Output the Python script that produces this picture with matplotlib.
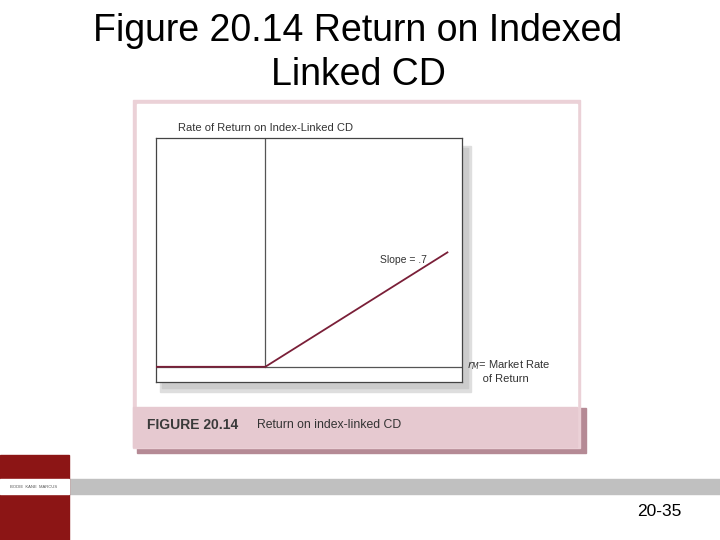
import matplotlib.pyplot as plt
from matplotlib.patches import Rectangle

plt.rcParams['font.family'] = ['Liberation Sans', 'DejaVu Sans']

# market return (x) vs return on index-linked CD (y)
market = [-0.6, 0.0, 1.0]
cd_return = [0.0, 0.0, 0.7]

title = "Figure 20.14 Return on Indexed\nLinked CD"
axis_title = "Rate of Return on Index-Linked CD"
slope_label = "Slope = .7"
x_label = "$r_M$= Market Rate\n     of Return"
fig_no = "FIGURE 20.14"
caption = "Return on index-linked CD"
page = "20-35"

fig = plt.figure(figsize=(7.2, 5.4), dpi=100)

# page layer in pixel coords
bg = fig.add_axes([0, 0, 1, 1])
bg.set_xlim(0, 720)
bg.set_ylim(540, 0)
bg.axis('off')

pink = '#ebd1d7'
band = '#e6c9d0'
# caption shadow + band
bg.add_patch(Rectangle((137, 408), 449, 45, color='#b58a95', zorder=1))
bg.add_patch(Rectangle((133, 100), 447, 348, color=pink, zorder=2))
bg.add_patch(Rectangle((137, 104), 440, 303, color='white', zorder=3))
bg.add_patch(Rectangle((133, 407), 444, 40, color=band, zorder=3))
# inner box shadow
bg.add_patch(Rectangle((160, 146), 311, 246, color='#dedede', zorder=3))
bg.add_patch(Rectangle((162, 148), 306, 240, color='#cccccc', zorder=3))

bg.text(358, 85, title, ha='center', va='baseline', fontsize=27,
        linespacing=1.27, zorder=5)
bg.text(178, 128, axis_title, fontsize=8, color='#333333', va='center', zorder=5)
bg.text(147, 425, fig_no, fontsize=10, fontweight='bold', color='#3a3a3a',
        va='center', zorder=5)
bg.text(257, 425, caption, fontsize=8.8, color='#333333', va='center', zorder=5)
bg.text(467, 371, x_label, fontsize=8, color='#333333', va='center',
        linespacing=1.15, zorder=5)

# footer
bg.add_patch(Rectangle((69, 479), 651, 15, color='#c0c0c0', zorder=2))
bg.add_patch(Rectangle((0, 455), 69, 85, color='#8c1515', zorder=2))
bg.add_patch(Rectangle((0, 479), 69, 15, color='white', zorder=3))
bg.text(34, 487, "BODIE  KANE  MARCUS", fontsize=3, ha='center', va='center',
        color='#555555', zorder=4)
bg.text(659, 512, page, fontsize=12.5, ha='center', va='center', zorder=4)

# chart axes: box from x=156..462, y=138..382 px
ax = fig.add_axes([156 / 720, 1 - 382 / 540, 306 / 720, 244 / 540])
ax.set_zorder(4)
ylo, yhi = -0.093, 1.40
ax.set_xlim(-0.60, 1.08)
ax.set_ylim(ylo, yhi)
ax.plot(market, cd_return, color='#7a1f38', lw=1.3, zorder=3)
ax.axvline(0, ymin=(0 - ylo) / (yhi - ylo), color='#555555', lw=0.9, zorder=1)
ax.axhline(0, color='#555555', lw=0.9, zorder=1)
ax.set_xticks([])
ax.set_yticks([])
for s in ax.spines.values():
    s.set_color('#444444')
    s.set_linewidth(0.9)
ax.text(0.63, 0.655, slope_label, fontsize=7.5, color='#333333', ha='left', va='center')

fig.savefig('out.png', dpi=100)
